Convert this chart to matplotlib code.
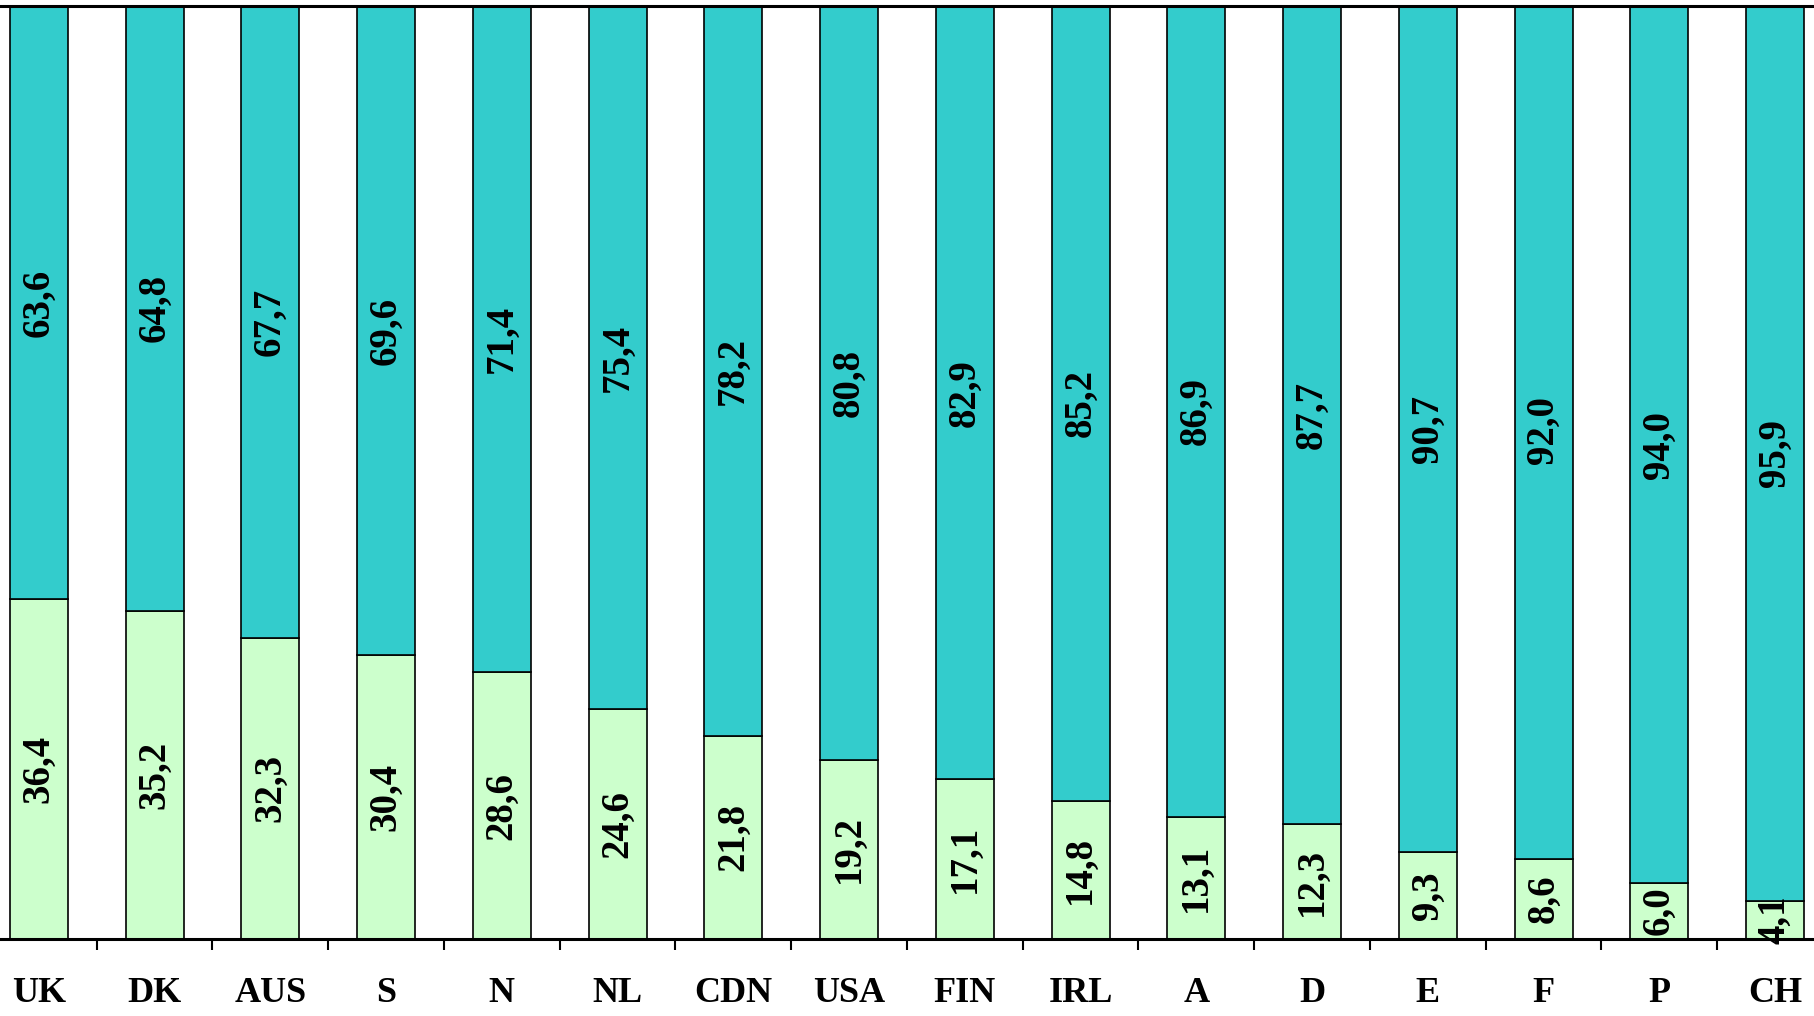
import matplotlib
matplotlib.use("Agg")
import matplotlib.pyplot as plt
import numpy as np

countries = ["UK", "DK", "AUS", "S", "N", "NL", "CDN", "USA", "FIN", "IRL", "A", "D", "E", "F", "P", "CH"]
lower = [36.4, 35.2, 32.3, 30.4, 28.6, 24.6, 21.8, 19.2, 17.1, 14.8, 13.1, 12.3, 9.3, 8.6, 6.0, 4.1]
upper = [63.6, 64.8, 67.7, 69.6, 71.4, 75.4, 78.2, 80.8, 82.9, 85.2, 86.9, 87.7, 90.7, 92.0, 94.0, 95.9]

plt.rcParams['font.family'] = ['Liberation Serif', 'DejaVu Serif']

fig = plt.figure(figsize=(18.14, 10.16), dpi=100)
ax = fig.add_axes([-19/1814, (1016-939)/1016, (1833+19)/1814, (939-6)/1016])

x = np.arange(len(countries))
w = 0.5
ax.bar(x, lower, width=w, color="#CCFFCC", edgecolor="black", linewidth=1.2)
ax.bar(x, upper, width=w, bottom=lower, color="#33CCCC", edgecolor="black", linewidth=1.2)

def fmt(v):
    return f"{v:.1f}".replace(".", ",")

for xi, lo, up in zip(x, lower, upper):
    ax.text(xi, lo / 2, fmt(lo), rotation=90, ha="center", va="center",
            fontsize=28, fontweight="bold", color="black")
    ax.text(xi, lo + up / 2, fmt(up), rotation=90, ha="center", va="center",
            fontsize=28, fontweight="bold", color="black")

ax.set_xlim(-0.5, len(countries) - 0.5)
ax.set_ylim(0, 100)
ax.set_yticks([])
ax.set_xticks(x)
ax.set_xticklabels(countries, fontsize=26, fontweight="bold")
ax.tick_params(axis="x", which="major", length=0, pad=27.5)
ax.set_xticks(np.arange(0.5, len(countries) - 0.5, 1), minor=True)
ax.tick_params(axis="x", which="minor", length=8, width=1.5, direction="out")

for s in ["left", "right"]:
    ax.spines[s].set_visible(False)
ax.spines["top"].set_linewidth(2.2)
ax.spines["bottom"].set_linewidth(2.2)

fig.savefig("out.png", dpi=100)
